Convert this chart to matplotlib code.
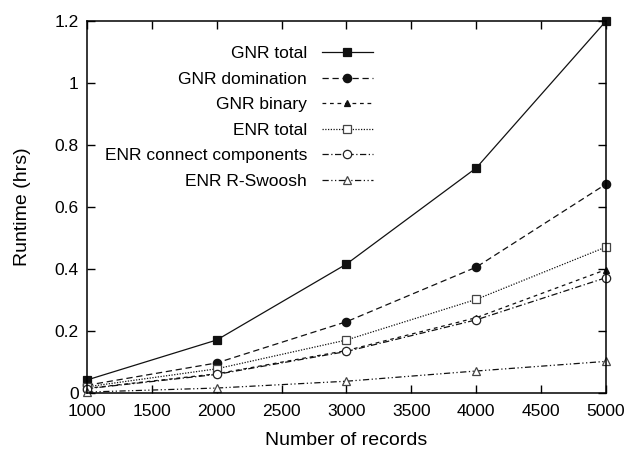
import matplotlib
matplotlib.use("Agg")
import matplotlib.pyplot as plt

records = [1000, 2000, 3000, 4000, 5000]
gnr_total = [0.042, 0.171, 0.416, 0.726, 1.2]
gnr_domination = [0.025, 0.097, 0.23, 0.406, 0.674]
gnr_binary = [0.015, 0.062, 0.137, 0.243, 0.398]
enr_total = [0.02, 0.078, 0.171, 0.302, 0.471]
enr_connect = [0.014, 0.06, 0.134, 0.236, 0.372]
enr_rswoosh = [0.003, 0.016, 0.038, 0.071, 0.102]

labels = ["GNR total", "GNR domination", "GNR binary", "ENR total",
          "ENR connect components", "ENR R-Swoosh"]
series = [gnr_total, gnr_domination, gnr_binary, enr_total, enr_connect, enr_rswoosh]

plt.rcParams['font.family'] = ['Liberation Sans', 'DejaVu Sans']

fig = plt.figure(figsize=(6.28, 4.51), dpi=100)
ax = fig.add_axes([0.1385, 0.1286, 0.965 - 0.1385, 0.9534 - 0.1286])

styles = [
    dict(ls='-', marker='s', mfc='#111111', mec='#111111', ms=6),
    dict(ls=(0, (5, 3)), marker='o', mfc='#111111', mec='#111111', ms=6),
    dict(ls=(0, (3, 3)), marker='^', mfc='#111111', mec='#111111', ms=5),
    dict(ls=(0, (1, 1.2)), marker='s', mfc='white', mec='#444444', ms=6),
    dict(ls=(0, (5, 2, 1, 2)), marker='o', mfc='white', mec='#222222', ms=6),
    dict(ls=(0, (5, 2, 1, 2, 1, 2)), marker='^', mfc='white', mec='#444444', ms=6),
]

for lab, ys, st in zip(labels, series, styles):
    ax.plot(records, ys, color='#111111', lw=0.9, label=lab, mew=0.9,
            clip_on=False, **st)

ax.set_xlim(1000, 5000)
ax.set_ylim(0, 1.2)
ax.set_xticks([1000, 1500, 2000, 2500, 3000, 3500, 4000, 4500, 5000])
ax.set_yticks([0, 0.2, 0.4, 0.6, 0.8, 1.0, 1.2])
ax.set_yticklabels(["0", "0.2", "0.4", "0.6", "0.8", "1", "1.2"])
ax.tick_params(direction='in', top=True, right=True, length=6, width=1,
               labelsize=12.5)
ax.tick_params(axis='x', pad=8)
ax.tick_params(axis='y', pad=6)
for s in ax.spines.values():
    s.set_linewidth(1.1)

ax.set_xlabel("Number of records", fontsize=14, labelpad=9)
ax.set_ylabel("Runtime (hrs)", fontsize=14, labelpad=17)

leg = ax.legend(loc='upper right', bbox_to_anchor=(373 / 628, 1 - 46 / 451),
                bbox_transform=fig.transFigure, markerfirst=False,
                frameon=False, fontsize=12.5, handlelength=2.94,
                handletextpad=0.86, labelspacing=0.6, borderpad=0,
                borderaxespad=0)
leg._legend_box.align = "right"
for vp in leg._legend_handle_box.get_children():
    vp.align = "right"

fig.savefig("out.png", dpi=100)
